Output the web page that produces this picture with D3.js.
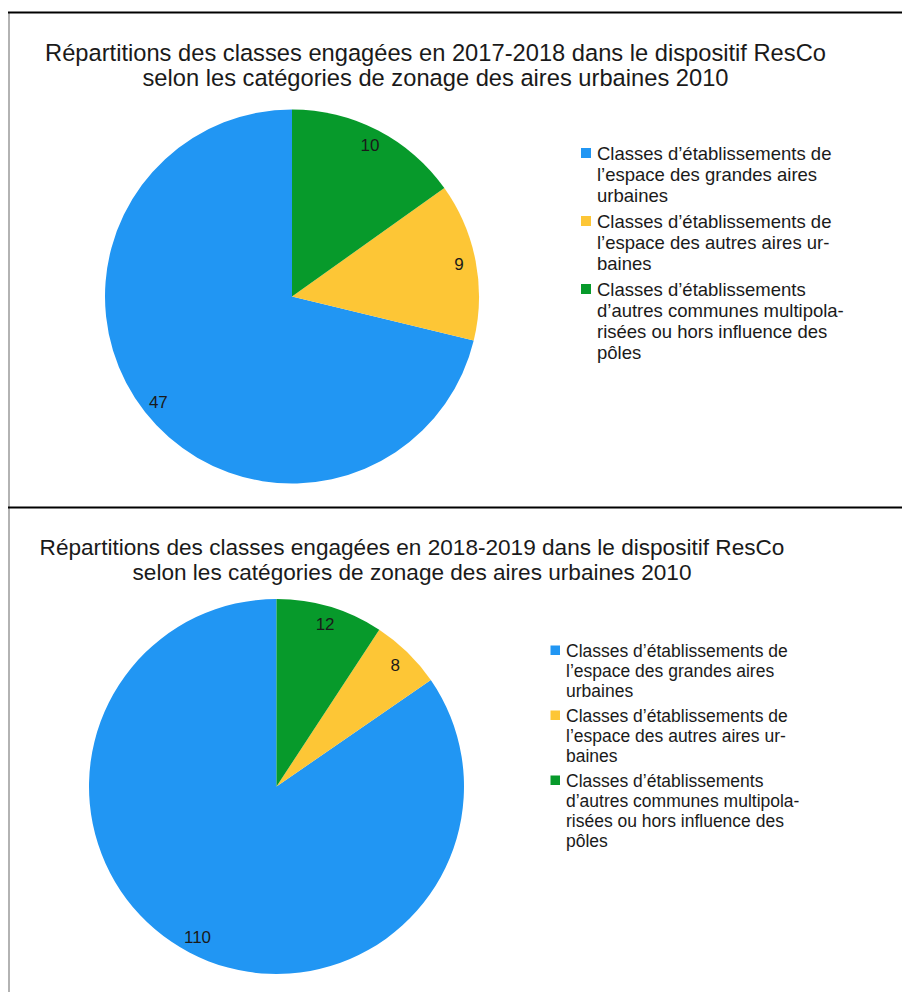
<!DOCTYPE html>
<html>
<head>
<meta charset="utf-8">
<script src="https://cdn.jsdelivr.net/npm/d3@7"></script>
<style>
  body { margin: 0; background: #fff; }
  text { font-family: "Liberation Sans", Arial, sans-serif; fill: #1a1a1a; }
</style>
</head>
<body>
<div id="chart"></div>
<script>
// data
const categories = [
  "Classes d’établissements de l’espace des grandes aires urbaines",
  "Classes d’établissements de l’espace des autres aires urbaines",
  "Classes d’établissements d’autres communes multipolarisées ou hors influence des pôles"
];
// legend lines as they wrap in the picture
const legendLines = [
  ["Classes d’établissements de", "l’espace des grandes aires", "urbaines"],
  ["Classes d’établissements de", "l’espace des autres aires ur-", "baines"],
  ["Classes d’établissements", "d’autres communes multipola-", "risées ou hors influence des", "pôles"]
];
const colors = ["#2196f3", "#fdc636", "#079a2b"];
const values2017 = [47, 9, 10];
const values2018 = [110, 8, 12];
const titles2017 = ["Répartitions des classes engagées en 2017-2018 dans le dispositif ResCo",
                    "selon les catégories de zonage des aires urbaines 2010"];
const titles2018 = ["Répartitions des classes engagées en 2018-2019 dans le dispositif ResCo",
                    "selon les catégories de zonage des aires urbaines 2010"];

(function () {
  const width = 902, height = 992;
  const svg = d3.select("#chart").append("svg")
    .attr("width", width)
    .attr("height", height);

  // frame lines
  svg.append("line").attr("x1", 9).attr("x2", 9).attr("y1", 12).attr("y2", height)
    .attr("stroke", "#9a9a9a").attr("stroke-width", 1.5);
  svg.append("line").attr("x1", 8).attr("x2", width).attr("y1", 12.5).attr("y2", 12.5)
    .attr("stroke", "#000").attr("stroke-width", 2);
  svg.append("line").attr("x1", 8).attr("x2", width).attr("y1", 507.5).attr("y2", 507.5)
    .attr("stroke", "#000").attr("stroke-width", 2);

  const pie = d3.pie().sort(null).startAngle(0).endAngle(-2 * Math.PI);

  function drawPanel(values, titles, o) {
    const g = svg.append("g");

    g.selectAll("text.title")
      .data(titles)
      .join("text")
      .attr("class", "title")
      .attr("x", o.titleX)
      .attr("y", (d, i) => o.titleY + i * o.titleGap)
      .attr("text-anchor", "middle")
      .style("font-size", o.titleSize + "px")
      .text(d => d);

    const arcs = pie(values);
    const arc = d3.arc().innerRadius(0).outerRadius(o.r);
    const labelArc = d3.arc().innerRadius(o.labelR).outerRadius(o.labelR);

    const pg = g.append("g").attr("transform", `translate(${o.cx},${o.cy})`);
    pg.selectAll("path")
      .data(arcs)
      .join("path")
      .attr("d", arc)
      .attr("fill", (d, i) => colors[i]);

    pg.selectAll("text")
      .data(arcs)
      .join("text")
      .attr("transform", d => `translate(${labelArc.centroid(d)})`)
      .attr("text-anchor", "middle")
      .attr("dy", "0.35em")
      .style("font-size", o.labelSize + "px")
      .text(d => d.data);

    // legend
    let y = o.legendY;
    legendLines.forEach((lines, i) => {
      const lg = g.append("g");
      lg.append("rect")
        .attr("x", o.legendX - o.sq - 6)
        .attr("y", y - o.sq - 2)
        .attr("width", o.sq)
        .attr("height", o.sq)
        .attr("fill", colors[i]);
      lg.selectAll("text")
        .data(lines)
        .join("text")
        .attr("x", o.legendX)
        .attr("y", (d, j) => y + j * o.lineH)
        .style("font-size", o.legendSize + "px")
        .text(d => d);
      y += lines.length * o.lineH + o.itemGap;
    });
  }

  drawPanel(values2017, titles2017, {
    titleX: 435.5, titleY: 61, titleGap: 25, titleSize: 23.7,
    cx: 292, cy: 296.5, r: 187, labelR: 170, labelSize: 17,
    legendX: 597, legendY: 160, lineH: 21, itemGap: 5, legendSize: 18.5, sq: 10
  });

  drawPanel(values2018, titles2018, {
    titleX: 412, titleY: 555, titleGap: 25, titleSize: 22.6,
    cx: 276.5, cy: 786.5, r: 187.5, labelR: 170, labelSize: 17,
    legendX: 566, legendY: 657, lineH: 20, itemGap: 5, legendSize: 17.5, sq: 9.5
  });
})();
</script>
</body>
</html>
